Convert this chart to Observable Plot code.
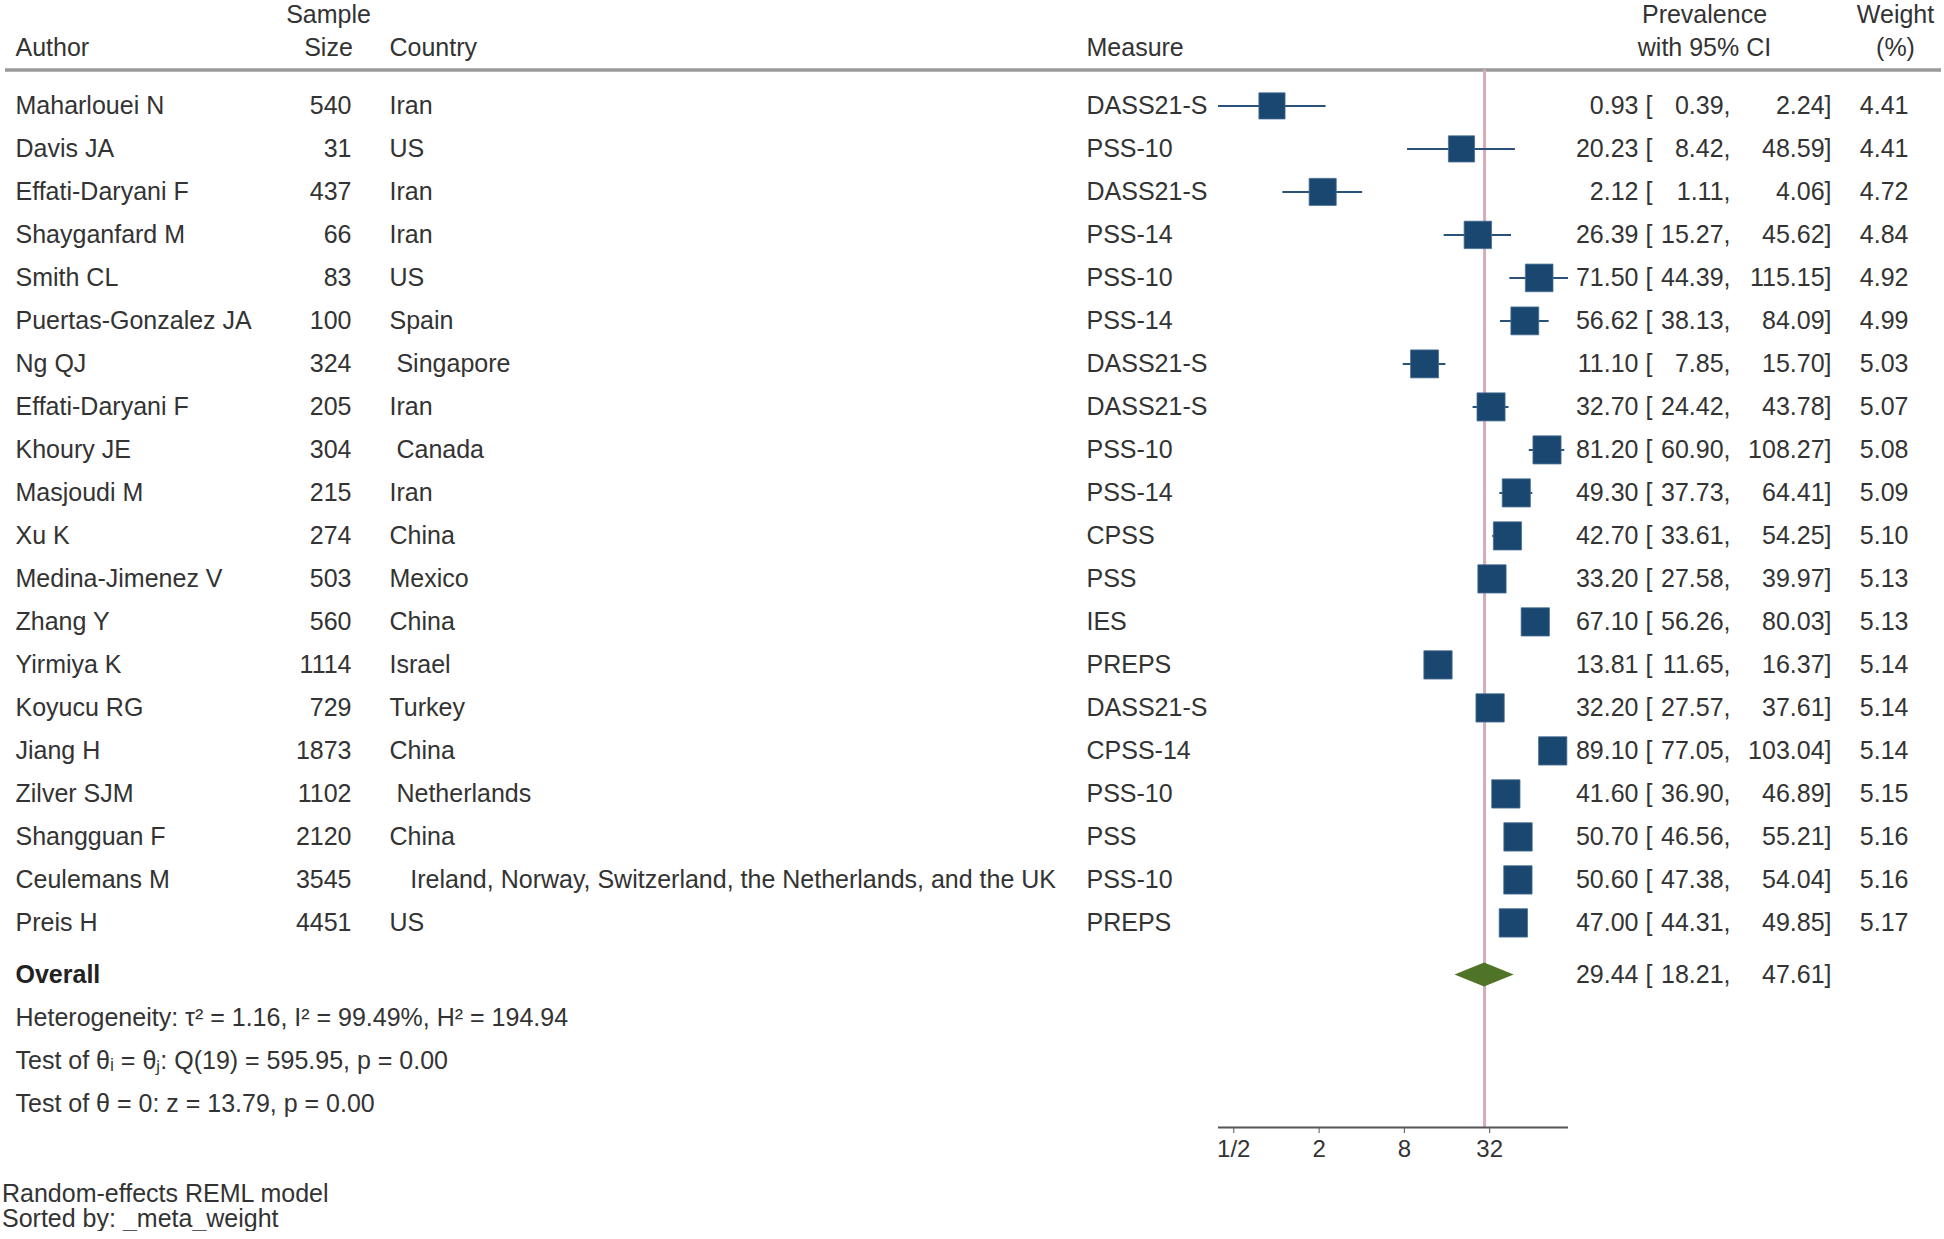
<!DOCTYPE html>
<html><head><meta charset="utf-8">
<script src="https://cdn.jsdelivr.net/npm/d3@7"></script>
<script src="https://cdn.jsdelivr.net/npm/@observablehq/plot@0.6"></script>
<style>
body{margin:0;background:#fff;font-family:"Liberation Sans",Arial,sans-serif;}
#chart svg text{white-space:pre;}
#note{font-size:25px;line-height:25px;color:#333;margin:6px 0 0 2px;}
</style></head><body>
<div id="chart"></div>
<div id="note">Random-effects REML model<br>Sorted by: _meta_weight</div>
<script>
const authors = ["Maharlouei N","Davis JA","Effati-Daryani F","Shayganfard M","Smith CL","Puertas-Gonzalez JA","Ng QJ","Effati-Daryani F","Khoury JE","Masjoudi M","Xu K","Medina-Jimenez V","Zhang Y","Yirmiya K","Koyucu RG","Jiang H","Zilver SJM","Shangguan F","Ceulemans M","Preis H"];
const sampleSizes = [540,31,437,66,83,100,324,205,304,215,274,503,560,1114,729,1873,1102,2120,3545,4451];
const countries = ["Iran","US","Iran","Iran","US","Spain"," Singapore","Iran"," Canada","Iran","China","Mexico","China","Israel","Turkey","China"," Netherlands","China","   Ireland, Norway, Switzerland, the Netherlands, and the UK","US"];
const measures = ["DASS21-S","PSS-10","DASS21-S","PSS-14","PSS-10","PSS-14","DASS21-S","DASS21-S","PSS-10","PSS-14","CPSS","PSS","IES","PREPS","DASS21-S","CPSS-14","PSS-10","PSS","PSS-10","PREPS"];
const prevalence = [0.93,20.23,2.12,26.39,71.50,56.62,11.10,32.70,81.20,49.30,42.70,33.20,67.10,13.81,32.20,89.10,41.60,50.70,50.60,47.00];
const ciLower = [0.39,8.42,1.11,15.27,44.39,38.13,7.85,24.42,60.90,37.73,33.61,27.58,56.26,11.65,27.57,77.05,36.90,46.56,47.38,44.31];
const ciUpper = [2.24,48.59,4.06,45.62,115.15,84.09,15.70,43.78,108.27,64.41,54.25,39.97,80.03,16.37,37.61,103.04,46.89,55.21,54.04,49.85];
const weights = [4.41,4.41,4.72,4.84,4.92,4.99,5.03,5.07,5.08,5.09,5.10,5.13,5.13,5.14,5.14,5.14,5.15,5.16,5.16,5.17];
const overallLabel = "Overall";
const overallEst = 29.44, overallLo = 18.21, overallHi = 47.61;
const statLines = ["Heterogeneity: \u03c4\u00b2 = 1.16, I\u00b2 = 99.49%, H\u00b2 = 194.94",
                   "Test of \u03b8\u1d62 = \u03b8\u2c7c: Q(19) = 595.95, p = 0.00",
                   "Test of \u03b8 = 0: z = 13.79, p = 0.00"];
const tickValues = [0.5, 2, 8, 32];
const tickLabels = ["1/2", "2", "8", "32"];
const headers1 = [{t:"Sample", col:"size"},{t:"Prevalence", col:"ci"},{t:"Weight", col:"w"}];
const headers2 = [{t:"Author", col:"author"},{t:"Size", col:"size"},{t:"Country", col:"country"},{t:"Measure", col:"measure"},{t:"with 95% CI", col:"ci"},{t:"(%)", col:"w"}];

// ---- layout (row units) ----
const W = 1944, H = 1175, MB = 48;
const rowTop = -2.451, rowBottom = 23.758;
const overallRow = 20.21, headerLineRow = -0.835, head1Row = -2.114, head2Row = -1.335;
const statRows = [21.22, 22.22, 23.2];
const xDomain = [d3.min(ciLower), d3.max(ciUpper)];

const rows = authors.map((a, i) => ({row: i, author: a, size: sampleSizes[i], country: countries[i], measure: measures[i],
  est: prevalence[i], lo: ciLower[i], hi: ciUpper[i], w: weights[i]}));
const numRows = rows.concat([{row: overallRow, est: overallEst, lo: overallLo, hi: overallHi, w: null}]);
const hd = 0.28;
const diamond = [
  {y: overallRow - hd, x1: overallEst, x2: overallEst},
  {y: overallRow, x1: overallLo, x2: overallHi},
  {y: overallRow + hd, x1: overallEst, x2: overallEst}];
const ticks = tickValues.map((v, i) => ({v, label: tickLabels[i]}));

const txt = "#333";
const FS = 25;
const colX = {author: 15, size: 351, country: 389, measure: 1086};
const hx = {author: [15,"start"], size: [328,"middle"], country: [389,"start"], measure: [1086,"start"], ci: [1704,"middle"], w: [1895,"middle"]};
const T = (data, opts) => Plot.text(data, {frameAnchor: "left", fill: txt, fontSize: FS, ...opts});

const chart = Plot.plot({
  width: W, height: H,
  marginLeft: 0, marginRight: 0, marginTop: 0, marginBottom: MB,
  style: {fontFamily: "'Liberation Sans', Arial, sans-serif", fontSize: "25px", background: "white", color: txt},
  x: {type: "log", domain: xDomain, range: [1218, 1568]},
  y: {domain: [rowTop, rowBottom], range: [0, H - MB], axis: null},
  r: {domain: [0, d3.max(weights)], range: [0, 16]},
  marks: [
    Plot.ruleY([headerLineRow], {stroke: "#9a9a9a", strokeWidth: 3.5, insetLeft: 5, insetRight: 3}),
    Plot.ruleX([overallEst], {y1: headerLineRow, y2: rowBottom, stroke: "#d3adb8", strokeWidth: 3}),
    Plot.ruleY(rows, {y: "row", x1: "lo", x2: "hi", stroke: "#2a5278", strokeWidth: 2}),
    Plot.dot(rows, {x: "est", y: "row", r: "w", symbol: "square", fill: "#1a476f", stroke: "#4a6f95", strokeWidth: 0.8}),
    Plot.areaX(diamond, {y: "y", x1: "x1", x2: "x2", fill: "#4f7428"}),
    // axis
    Plot.ruleY([rowBottom], {x1: xDomain[0], x2: xDomain[1], stroke: "#555", strokeWidth: 2}),
    Plot.axisX({ticks: tickValues, tickFormat: () => "", tickSize: 6, label: null, stroke: "#555"}),
    Plot.text(ticks, {x: "v", text: "label", frameAnchor: "bottom", lineAnchor: "top", dy: 12, fontSize: 24, fill: txt}),
    // headers
    ...headers1.map(h => T([h], {y: () => head1Row, text: "t", dx: hx[h.col][0], textAnchor: hx[h.col][1]})),
    ...headers2.map(h => T([h], {y: () => head2Row, text: "t", dx: hx[h.col][0], textAnchor: hx[h.col][1]})),
    // columns
    T(rows, {y: "row", text: "author", dx: colX.author, textAnchor: "start"}),
    T(rows, {y: "row", text: d => String(d.size), dx: colX.size, textAnchor: "end"}),
    T(rows, {y: "row", text: "country", dx: colX.country, textAnchor: "start"}),
    T(rows, {y: "row", text: "measure", dx: colX.measure, textAnchor: "start"}),
    T(numRows, {y: "row", text: d => d.est.toFixed(2), dx: 1638, textAnchor: "end"}),
    T(numRows, {y: "row", text: () => "[", dx: 1645, textAnchor: "start"}),
    T(numRows, {y: "row", text: d => d.lo.toFixed(2) + ",", dx: 1730, textAnchor: "end"}),
    T(numRows, {y: "row", text: d => d.hi.toFixed(2) + "]", dx: 1831, textAnchor: "end"}),
    T(rows, {y: "row", text: d => d.w.toFixed(2), dx: 1908, textAnchor: "end"}),
    T([overallLabel], {y: () => overallRow, text: d => d, dx: 15, textAnchor: "start", fontWeight: "bold", fill: "#222"}),
    T(statLines, {y: (d, i) => statRows[i], text: d => d, dx: 15, textAnchor: "start"})
  ]
});
document.getElementById("chart").appendChild(chart);
</script>
</body></html>
